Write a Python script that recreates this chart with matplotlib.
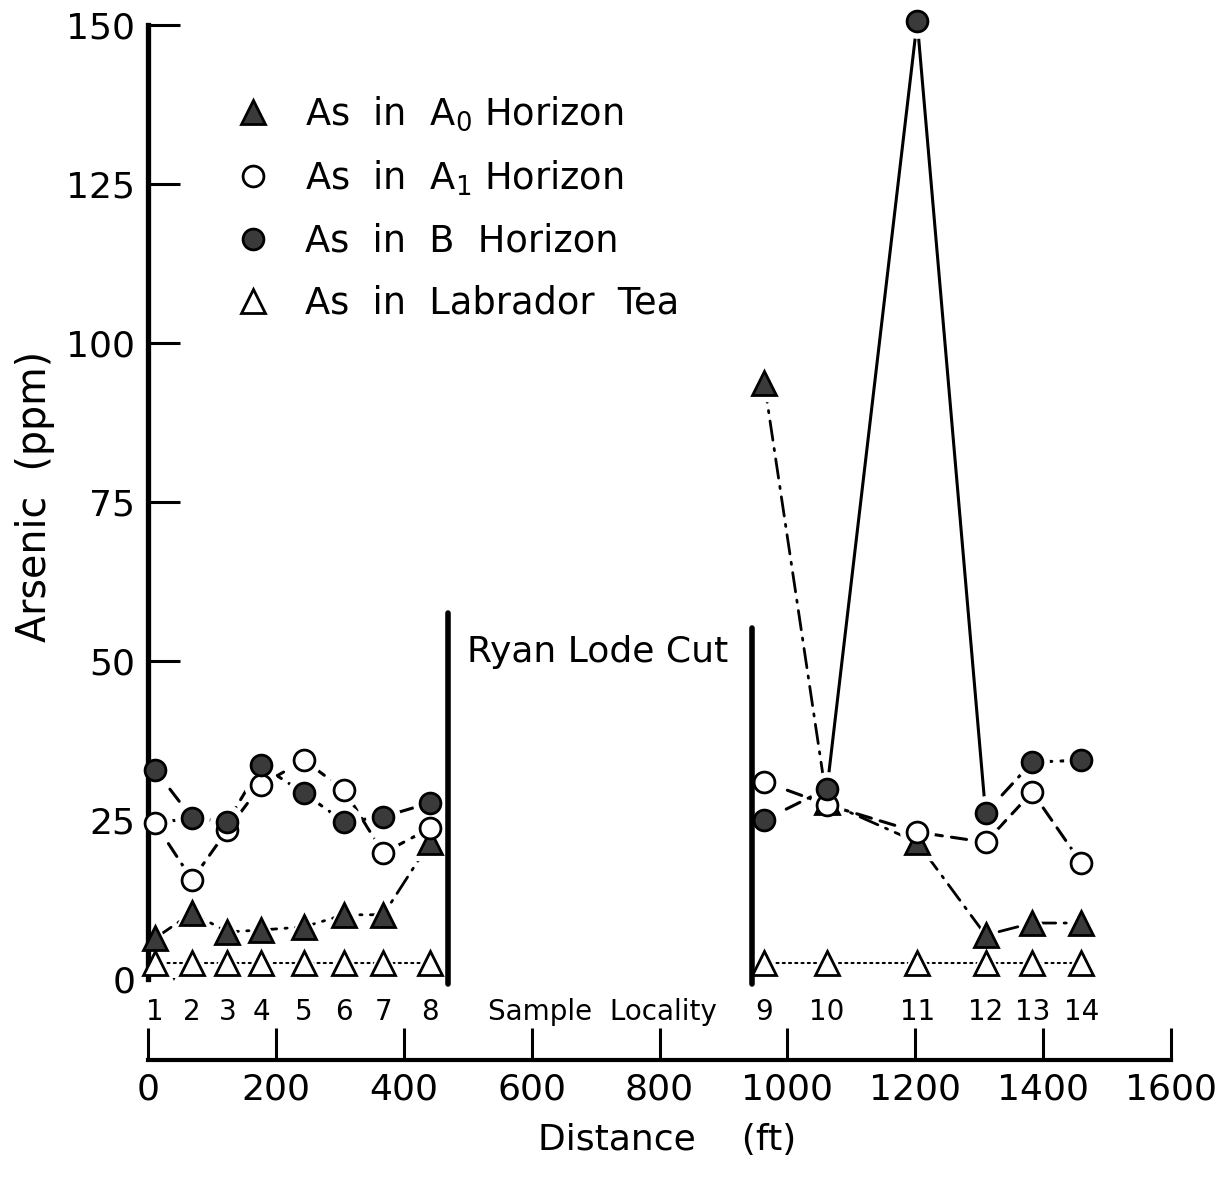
import matplotlib
matplotlib.use("Agg")
import matplotlib.pyplot as plt
from matplotlib.lines import Line2D

plt.rcParams['font.family'] = ['DejaVu Sans']
plt.rcParams['mathtext.default'] = 'regular'

# ---------------- data ----------------
localities = ['1', '2', '3', '4', '5', '6', '7', '8', '9', '10', '11', '12', '13', '14']
distance_ft = [11, 69, 124, 177, 244, 307, 368, 441, 964, 1062, 1203, 1310, 1383, 1460]
as_a0 = [6.4, 10.4, 7.4, 7.7, 8.2, 10.1, 10.1, 21.5, 93.7, 27.8, 21.5, 6.9, 8.8, 8.8]
as_a1 = [24.5, 15.6, 23.4, 30.5, 34.4, 29.7, 19.8, 23.7, 31.0, 27.4, 23.1, 21.5, 29.4, 18.2]
as_b = [32.9, 25.3, 24.7, 33.6, 29.2, 24.7, 25.5, 27.7, 25.0, 29.9, 150.6, 26.1, 34.1, 34.4]
as_tea = [2.5, 2.5, 2.5, 2.5, 2.5, 2.5, 2.5, 2.5, 2.5, 2.5, 2.5, 2.5, 2.5, 2.5]

cut_edges_ft = [469, 944]
cut_tops_ppm = [57.5, 55.2]
cut_label = 'Ryan Lode Cut'

y_ticks = [0, 25, 50, 75, 100, 125, 150]
dist_ticks = [0, 200, 400, 600, 800, 1000, 1200, 1400, 1600]

legend_labels = ['As  in  A$_0$ Horizon', 'As  in  A$_1$ Horizon',
                 'As  in  B  Horizon', 'As  in  Labrador  Tea']

# ---------------- styles ----------------
W_PX, H_PX = 1227, 1188
fig = plt.figure(figsize=(W_PX / 100, H_PX / 100), dpi=100)

ax_l, ax_r = 148 / W_PX, 1171 / W_PX
ax_b, ax_t = 1 - 979 / H_PX, 1 - 25 / H_PX
ax = fig.add_axes([ax_l, ax_b, ax_r - ax_l, ax_t - ax_b])
ax.set_xlim(0, 1600)
ax.set_ylim(0, 150)

dash_dot = (7, 3, 0.8, 3)
dashed = (5, 3)
dotted = (1, 2)

series = [
    # values, marker, face, size, segments (start, end, dashes), linewidth
    (as_a0, '^', '#3a3a3a', 17, [(0, 7, dash_dot), (8, 13, dash_dot)], 2.0),
    (as_a1, 'o', 'white', 15, [(0, 7, dashed), (8, 13, dashed)], 2.2),
    (as_b, 'o', '#3a3a3a', 15, [(0, 7, dashed), (8, 9, dashed), (9, 11, None), (11, 13, dashed)], 2.2),
    (as_tea, '^', 'white', 17, [(0, 7, dotted), (8, 13, dotted)], 1.5),
]

for vals, mk, fc, ms, segs, lw in series:
    for s, e, ds in segs:
        xs = distance_ft[s:e + 1]
        ys = vals[s:e + 1]
        line, = ax.plot(xs, ys, color='black', lw=lw, zorder=2, clip_on=False,
                        solid_capstyle='butt', dash_capstyle='round')
        if ds is not None:
            line.set_dashes(ds)
    # white halo so that lines stop short of the markers
    ax.plot(distance_ft, vals, ls='none', marker=mk, ms=ms + 9, mfc='white',
            mec='white', zorder=3, clip_on=False)

for vals, mk, fc, ms, segs, lw in series:
    ax.plot(distance_ft, vals, ls='none', marker=mk, ms=ms, mfc=fc, mec='black',
            mew=2.0, zorder=5, clip_on=False)

# Ryan Lode Cut boundaries
for xe, top in zip(cut_edges_ft, cut_tops_ppm):
    ax.plot([xe, xe], [-0.8, top], color='black', lw=4.0, zorder=4,
            solid_capstyle='round', clip_on=False)
ax.text(sum(cut_edges_ft) / 2 - 3, 51.4, cut_label, ha='center', va='center',
        fontsize=26, zorder=6)

# spines & ticks
for sp in ['top', 'right', 'bottom']:
    ax.spines[sp].set_visible(False)
ax.spines['left'].set_linewidth(3.8)
ax.spines['left'].set_zorder(4)
ax.set_xticks([])
ax.set_yticks(y_ticks)
ax.set_yticklabels([str(t) for t in y_ticks])
ax.tick_params(axis='y', direction='in', length=23, width=2.2, pad=9,
               labelsize=26)

# locality labels
for d, lab in zip(distance_ft, localities):
    ax.text(d, -5.2, lab, ha='center', va='center', fontsize=20, clip_on=False)
ax.text(711, -5.2, 'Sample  Locality', ha='center', va='center', fontsize=20,
        clip_on=False)

# legend
handles = [Line2D([], [], ls='none', marker=mk, ms=ms, mfc=fc, mec='black', mew=2.0)
           for vals, mk, fc, ms, segs, lw in series]
ax.legend(handles, legend_labels, loc='upper left', bbox_to_anchor=(0.085, 0.927),
          frameon=False, fontsize=26.5, handlelength=1.0, handletextpad=0.9,
          labelspacing=0.68, borderaxespad=0, borderpad=0)

# distance axis
d_y = 1 - 1060 / H_PX
ax2 = fig.add_axes([ax_l, d_y, ax_r - ax_l, 0.02])
ax2.set_xlim(0, 1600)
ax2.patch.set_visible(False)
for sp in ['top', 'right', 'left']:
    ax2.spines[sp].set_visible(False)
ax2.spines['bottom'].set_linewidth(3.0)
ax2.set_yticks([])
ax2.set_xticks(dist_ticks)
ax2.set_xticklabels([str(t) for t in dist_ticks])
ax2.tick_params(axis='x', direction='in', length=23, width=2.2, pad=9,
                labelsize=26)

fig.text(35 / W_PX, 1 - 496 / H_PX, 'Arsenic  (ppm)', rotation=90,
         ha='center', va='center', fontsize=28.5)
fig.text(667 / W_PX, 1 - 1140 / H_PX, 'Distance    (ft)', ha='center',
         va='center', fontsize=26)

fig.savefig('out.png', dpi=100, facecolor='white')
